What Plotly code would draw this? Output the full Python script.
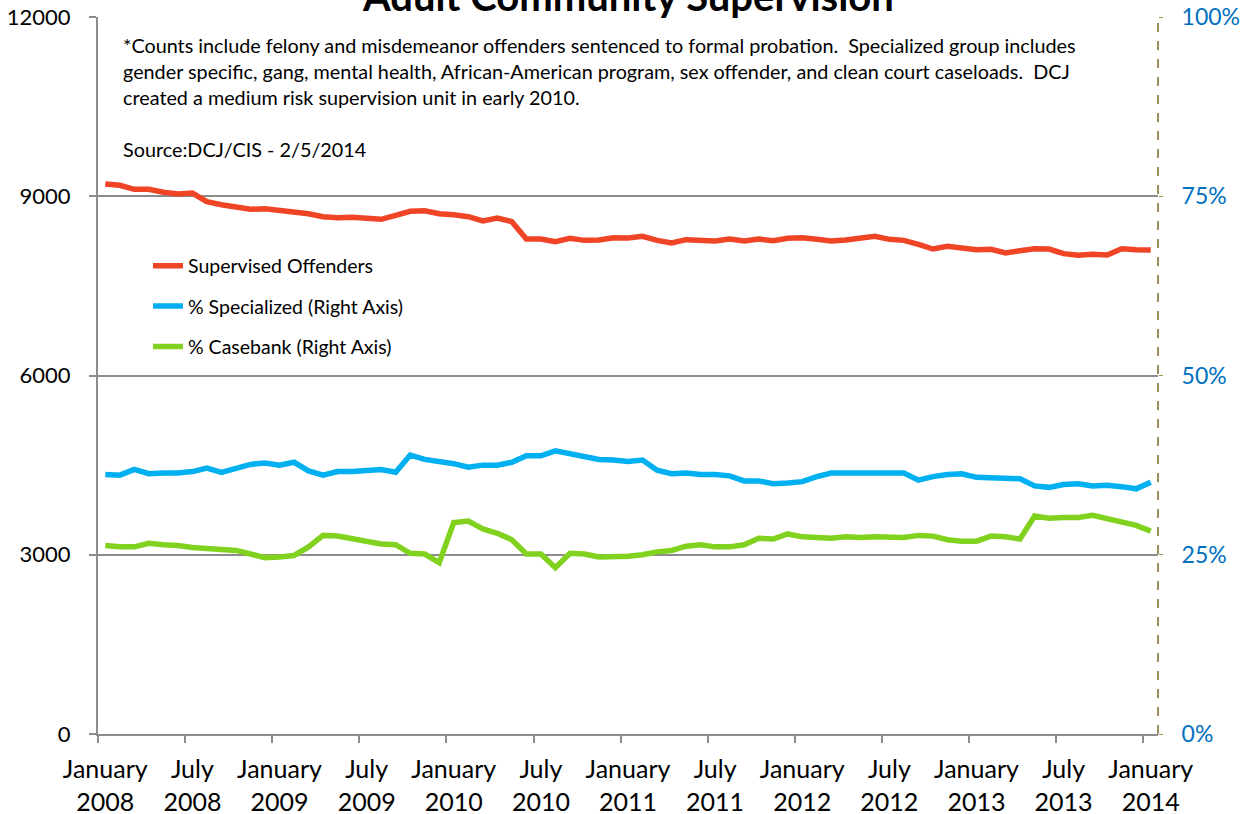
import plotly.graph_objects as go

# ---- data ----
tick_labels = ["January<br>2008", "July<br>2008", "January<br>2009", "July<br>2009",
               "January<br>2010", "July<br>2010", "January<br>2011", "July<br>2011",
               "January<br>2012", "July<br>2012", "January<br>2013", "July<br>2013",
               "January<br>2014"]
months = list(range(73))  # Jan 2008 .. Jan 2014

left_ticks = [0, 3000, 6000, 9000, 12000]
right_ticks = [0, 0.25, 0.5, 0.75, 1.0]

supervised = [9205, 9183, 9116, 9116, 9066, 9037, 9054, 8909, 8859, 8825,
              8781, 8792, 8770, 8725, 8708, 8658, 8641, 8647, 8641, 8614,
              8681, 8748, 8758, 8708, 8690, 8658, 8586, 8636, 8575, 8284,
              8284, 8240, 8296, 8262, 8268, 8306, 8300, 8329, 8262, 8217,
              8273, 8268, 8251, 8284, 8251, 8284, 8256, 8296, 8306, 8279,
              8251, 8268, 8290, 8329, 8279, 8262, 8195, 8117, 8162, 8145,
              8106, 8112, 8050, 8089, 8122, 8117, 8039, 8011, 8028, 8017,
              8122, 8106, 8100]

pct_specialized = [36.2, 36.1, 36.9, 36.3, 36.4, 36.4, 36.6, 37.1, 36.5, 37.1,
                   37.6, 37.8, 37.5, 37.9, 36.7, 36.1, 36.6, 36.6, 36.7, 36.9,
                   36.5, 38.9, 38.3, 38.0, 37.7, 37.2, 37.5, 37.5, 37.9, 38.8,
                   38.8, 39.5, 39.1, 38.6, 38.3, 38.2, 38.0, 38.2, 36.8, 36.3,
                   36.4, 36.2, 36.2, 36.0, 35.3, 35.3, 34.9, 35.0, 35.2, 35.9,
                   36.4, 36.4, 36.4, 36.5, 36.5, 36.4, 35.4, 35.9, 36.2, 36.3,
                   35.8, 35.7, 35.7, 35.6, 34.6, 34.4, 34.8, 34.9, 34.6, 34.7,
                   34.5, 34.2, 35.1]

pct_casebank = [26.3, 26.1, 26.1, 26.6, 26.4, 26.3, 26.0, 25.9, 25.7, 25.6,
                25.1, 24.6, 24.7, 24.9, 26.1, 27.7, 27.6, 27.2, 26.9, 26.5,
                26.4, 25.2, 25.1, 23.9, 29.5, 29.7, 28.6, 28.0, 27.1, 25.1,
                25.1, 23.2, 25.2, 25.1, 24.7, 24.7, 24.8, 25.0, 25.4, 25.6,
                26.2, 26.4, 26.1, 26.1, 26.4, 27.3, 27.2, 27.9, 27.5, 27.4,
                27.3, 27.5, 27.4, 27.5, 27.5, 27.4, 27.7, 27.6, 27.1, 26.9,
                26.9, 27.6, 27.5, 27.2, 30.4, 30.1, 30.2, 30.2, 30.5, 30.0,
                29.6, 29.1, 28.3]

note_lines = [
    "*Counts include felony and misdemeanor offenders sentenced to formal probation.  Specialized group includes",
    "gender specific, gang, mental health, African-American program, sex offender, and clean court caseloads.  DCJ",
    "created a medium risk supervision unit in early 2010.",
    "",
    "Source:DCJ/CIS - 2/5/2014",
]

FONT = "Lato, 'Open Sans', sans-serif"
RED, BLUE, GREEN = "#EF4426", "#00B0F0", "#80D21E"
GRID = "#8C8C8C"
OLIVE = "#9C8F5A"

fig = go.Figure()
fig.add_trace(go.Scatter(x=months, y=supervised, mode="lines", name="Supervised Offenders",
                         line=dict(color=RED, width=5.5), legendgroup="a"))
fig.add_trace(go.Scatter(x=months, y=[v / 100 for v in pct_specialized], mode="lines",
                         name="% Specialized (Right Axis)", yaxis="y2",
                         line=dict(color=BLUE, width=5.5), legendgroup="b"))
fig.add_trace(go.Scatter(x=months, y=[v / 100 for v in pct_casebank], mode="lines",
                         name="% Casebank (Right Axis)", yaxis="y2",
                         line=dict(color=GREEN, width=5.5), legendgroup="c"))

L, R, T, B = 98, 92, 17, 80
W = 1250 - L - R
H = 814 - T - B

for i, line in enumerate(note_lines):
    if not line:
        continue
    ypx = 45 + 26 * i
    fig.add_annotation(text=line, xref="paper", yref="paper", x=(121 - L) / W,
                       y=(734 - ypx) / H, xanchor="left", yanchor="middle", showarrow=False,
                       font=dict(family=FONT, size=19.8, color="#000000"))

fig.add_annotation(text="<b>Adult Community Supervision</b>", xref="paper", yref="paper",
                   x=(628 - L) / W, y=(734 + 4) / H, xanchor="center", yanchor="middle",
                   showarrow=False, font=dict(family=FONT, size=40, color="#000000"))

# dashed right axis line
fig.add_shape(type="line", xref="paper", yref="paper", x0=1, x1=1, y0=0, y1=1,
              line=dict(color=OLIVE, width=2, dash="dash"))

fig.update_layout(
    width=1250, height=814,
    margin=dict(l=L, r=R, t=T, b=B, autoexpand=False),
    paper_bgcolor="white", plot_bgcolor="white",
    font=dict(family=FONT, size=20, color="#000000"),
    showlegend=True,
    legend=dict(x=(148 - L) / W, y=(734 - 246.5) / H, xanchor="left", yanchor="top",
                traceorder="grouped", tracegroupgap=12,
                font=dict(family=FONT, size=19.5, color="#000000"),
                bgcolor="rgba(0,0,0,0)", itemwidth=30),
    xaxis=dict(range=[-0.5, 72.5], tickmode="array", tickvals=list(range(0, 73, 6)),
               ticktext=tick_labels, ticks="", showgrid=False, zeroline=False,
               showline=True, linecolor=GRID, linewidth=2, automargin=False,
               tickfont=dict(family=FONT, size=25, color="#000000"), ticklabelstandoff=12,
               minor=dict(tickmode="linear", tick0=-0.5, dtick=6, ticks="outside",
                          ticklen=7, tickcolor=GRID, tickwidth=2, showgrid=False)),
    yaxis=dict(range=[0, 12000], tickmode="array", tickvals=left_ticks,
               ticktext=[str(v) for v in left_ticks], showgrid=True,
               gridcolor=GRID, gridwidth=1.5, zeroline=False, showline=True,
               linecolor=GRID, linewidth=2, ticks="outside", ticklen=7, tickcolor=GRID,
               tickwidth=2, tickfont=dict(family=FONT, size=22, color="#000000"),
               ticklabelstandoff=14, automargin=False),
    yaxis2=dict(range=[0, 1], overlaying="y", side="right", tickmode="array",
                tickvals=right_ticks, tickformat=".0%", showgrid=False, zeroline=False,
                showline=False, ticks="outside", ticklen=4, tickcolor=OLIVE,
                tickfont=dict(family=FONT, size=23, color="#0070C0"), ticklabelstandoff=14,
                automargin=False),
)

fig.write_html("out.html", config={"displayModeBar": False},
               post_script="document.body.style.margin='0';document.body.style.overflow='hidden';")
